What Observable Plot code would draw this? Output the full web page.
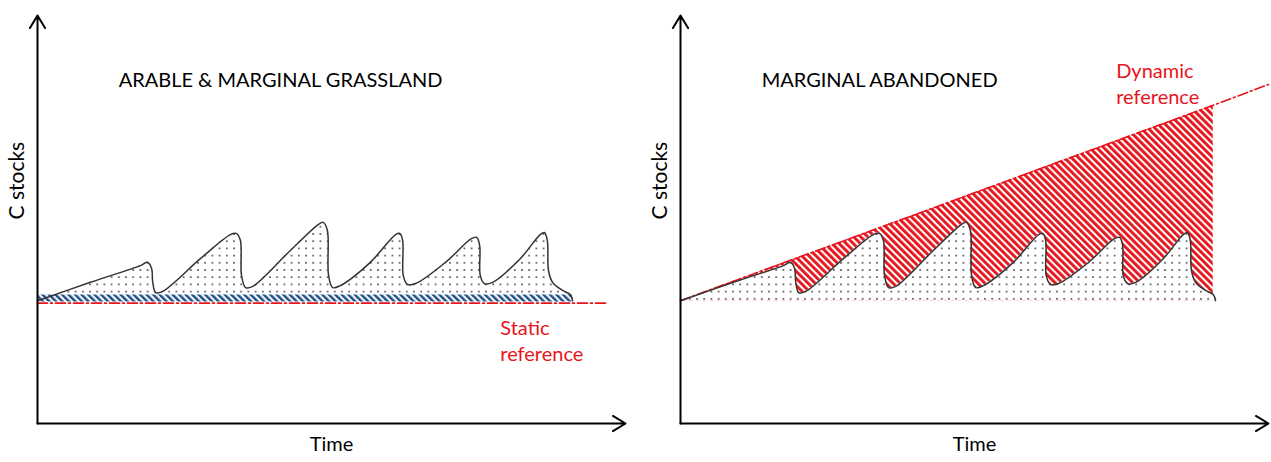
<!DOCTYPE html>
<html><head><meta charset="utf-8">
<script src="https://cdn.jsdelivr.net/npm/d3@7"></script>
<script src="https://cdn.jsdelivr.net/npm/@observablehq/plot@0.6"></script>
<style>
body{margin:0;background:#fff}
#wrap{display:flex;width:1271px;height:462px;overflow:hidden}
</style>
</head><body><div id="wrap"></div>
<script>
// ---- data (schematic units: time 0..100, C stocks 0..100) ----
const curveTime = [0, 9.0, 17.5, 18.7, 19.4, 19.6, 20.1, 21.3, 27.7, 32.8, 33.8, 34.5, 34.7, 35.4, 36.6, 43.0, 47.8, 48.6, 49.3, 49.5, 50.2, 51.5, 56.6, 60.9, 61.6, 62.1, 62.2, 62.9, 64.3, 69.4, 73.8, 74.7, 75.2, 75.3, 76.0, 77.4, 82.1, 85.5, 86.2, 86.7, 86.9, 87.6, 89.3, 90.6, 91.0];
const curveC    = [30.1, 34.6, 38.7, 39.5, 38.0, 34.6, 32.1, 32.4, 40.4, 46.3, 46.6, 44.9, 36.3, 33.3, 33.6, 42.4, 48.8, 49.3, 47.3, 36.3, 33.3, 33.8, 39.5, 46.3, 46.6, 44.9, 36.3, 34.1, 34.3, 39.5, 45.3, 45.6, 43.6, 36.3, 34.3, 34.6, 40.4, 46.3, 46.8, 44.9, 37.5, 34.6, 32.6, 31.6, 30.1];
const baselineC = 30.1;
const staticRefC = 29.5;
const staticRefTime = [0, 96.6];
const bandTime = [0, 91];
const bandLow = 29.8;
const bandHigh = 31.5;
const dynRefTime = [0, 90.6, 100];
const dynRefC = [30.1, 78.0, 83.1];
const titles = ["ARABLE & MARGINAL GRASSLAND", "MARGINAL ABANDONED"];
const refLabels = ["Static\nreference", "Dynamic\nreference"];
const xLabel = "Time";
const yLabel = "C stocks";
const axisSegments = [[0, 0, 0, 100], [0, 0, 100, 0]];

const curve = curveTime.map((t, i) => ({t, c: curveC[i]}));
const band = bandTime.map(t => ({t, lo: bandLow, hi: bandHigh}));
const dynRef = dynRefTime.map((t, i) => ({t, c: dynRefC[i]}));
const hatchPts = dynRef.slice(0, 2);

const RED = "#e8141c";
const FONT = "Lato, 'Open Sans', sans-serif";

function defsMark(html) {
  return () => {
    const g = document.createElementNS("http://www.w3.org/2000/svg", "defs");
    g.innerHTML = html;
    return g;
  };
}
const patterns = (p) => `
<pattern id="dots${p}" width="7.2" height="7.2" patternUnits="userSpaceOnUse">
  <rect width="7.2" height="7.2" fill="#fff"/>
  <circle cx="3.6" cy="3.6" r="1" fill="#4a4a4a"/>
</pattern>
<pattern id="red${p}" width="5" height="5" patternUnits="userSpaceOnUse" patternTransform="rotate(-45)">
  <rect width="5" height="5" fill="#fff"/>
  <rect width="2.9" height="5" fill="${RED}"/>
</pattern>
<pattern id="blue${p}" width="4.6" height="4.6" patternUnits="userSpaceOnUse" patternTransform="rotate(-45)">
  <rect width="4.6" height="4.6" fill="#f4f7fb"/>
  <rect width="2.4" height="4.6" fill="#1f4e85"/>
</pattern>`;

const common = (width, marginRight) => ({
  width, height: 462,
  marginLeft: 37, marginRight, marginTop: 15, marginBottom: 39,
  x: {domain: [0, 100], axis: null},
  y: {domain: [0, 100], axis: null},
  style: {fontFamily: FONT, background: "#fff", overflow: "visible"}
});

const axesMarks = () => [
  Plot.arrow(axisSegments, {x1: d => d[0], y1: d => d[1], x2: d => d[2], y2: d => d[3],
    stroke: "#000", strokeWidth: 2, headLength: 11, headAngle: 62}),
  Plot.text([yLabel], {frameAnchor: "left", rotate: -90, dx: -20, fontSize: 21, fill: "#000", fontFamily: FONT}),
  Plot.text([xLabel], {frameAnchor: "bottom", dy: 27, fontSize: 20, fill: "#000", fontFamily: FONT})
];

const left = Plot.plot({
  ...common(643, 18),
  marks: [
    defsMark(patterns("A")),
    Plot.areaY(curve, {x: "t", y1: baselineC, y2: "c", fill: "url(#dotsA)", curve: "catmull-rom"}),
    Plot.areaY(band, {x: "t", y1: "lo", y2: "hi", fill: "url(#blueA)"}),
    Plot.line(staticRefTime.map(t => ({t, c: staticRefC})), {x: "t", y: "c", stroke: RED, strokeWidth: 1.6, strokeDasharray: "10,3,2,3"}),
    Plot.line(curve, {x: "t", y: "c", stroke: "#333", strokeWidth: 1.5, curve: "catmull-rom"}),
    ...axesMarks(),
    Plot.text([titles[0]], {x: 13.8, y: 84.1, textAnchor: "start", fontSize: 20, fill: "#000", fontFamily: FONT}),
    Plot.text([refLabels[0]], {x: 78.7, y: 20.6, textAnchor: "start", lineAnchor: "middle", lineHeight: 1.3, fontSize: 20, fill: RED, fontFamily: FONT})
  ]
});

const right = Plot.plot({
  ...common(628, 3),
  marks: [
    defsMark(patterns("B")),
    Plot.areaY(hatchPts, {x: "t", y1: baselineC, y2: "c", fill: "url(#redB)"}),
    Plot.areaY(curve, {x: "t", y1: baselineC, y2: "c", fill: "url(#dotsB)", curve: "catmull-rom"}),
    Plot.line(dynRef, {x: "t", y: "c", stroke: RED, strokeWidth: 1.6, strokeDasharray: "10,3,2,3"}),
    Plot.line(curve, {x: "t", y: "c", stroke: "#333", strokeWidth: 1.5, curve: "catmull-rom"}),
    ...axesMarks(),
    Plot.text([titles[1]], {x: 13.8, y: 84.1, textAnchor: "start", fontSize: 20, fill: "#000", fontFamily: FONT}),
    Plot.text([refLabels[1]], {x: 74.1, y: 83.5, textAnchor: "start", lineAnchor: "middle", lineHeight: 1.3, fontSize: 20, fill: RED, fontFamily: FONT})
  ]
});

document.getElementById("wrap").append(left, right);
</script>
</body></html>
